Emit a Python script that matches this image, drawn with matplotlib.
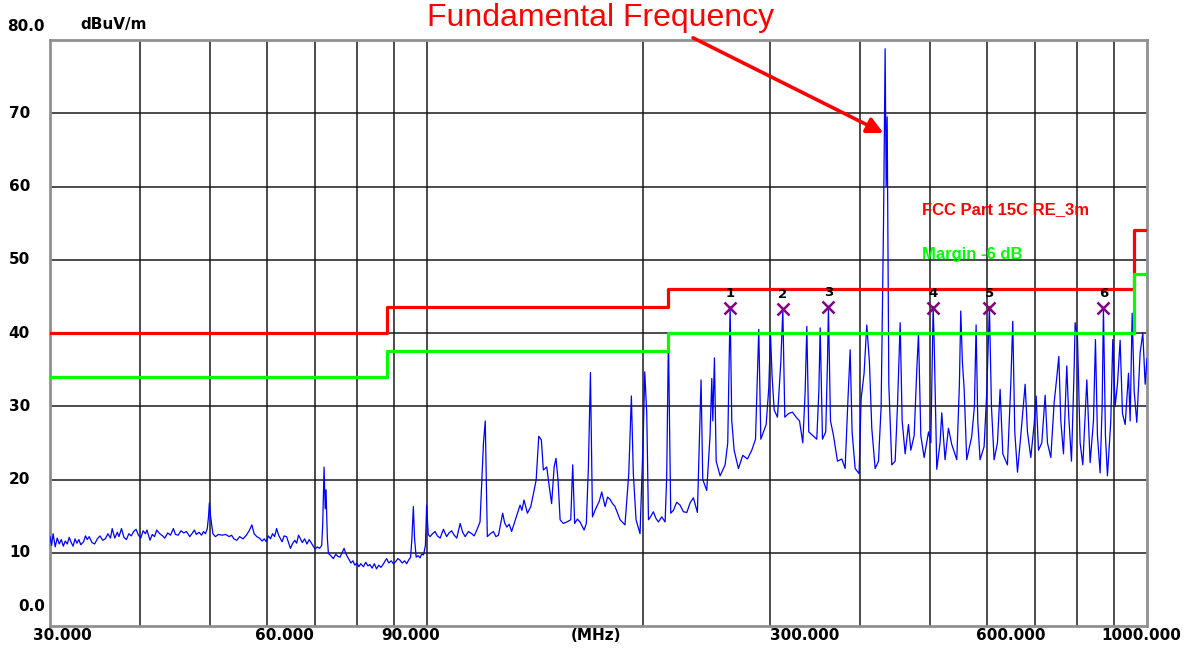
import numpy as np
import matplotlib
matplotlib.use("Agg")
import matplotlib.pyplot as plt
from matplotlib.ticker import NullLocator
from matplotlib.transforms import blended_transform_factory

# measured trace, low band 30-100 MHz (MHz, dBuV/m)
low_freq = [
    30.0, 30.15, 30.3, 30.5, 30.7, 30.9, 31.1, 31.3, 31.5, 31.7,
    31.9, 32.1, 32.3, 32.5, 32.7, 32.9, 33.1, 33.4, 33.6, 33.8,
    34.0, 34.3, 34.6, 34.9, 35.2, 35.5, 35.8, 36.1, 36.4, 36.6,
    36.9, 37.2, 37.4, 37.7, 38.0, 38.3, 38.6, 38.9, 39.2, 39.5,
    39.8, 40.1, 40.4, 40.7, 40.9, 41.3, 41.6, 41.9, 42.2, 42.6,
    43.0, 43.3, 43.7, 44.1, 44.5, 44.8, 45.2, 45.6, 46.0, 46.4,
    46.9, 47.3, 47.6, 47.9, 48.3, 48.7, 49.0, 49.3, 49.6, 49.8,
    49.93, 50.1, 50.3, 50.5, 50.9, 51.4, 52.0, 52.6, 53.2, 53.6,
    54.0, 54.5, 55.0, 55.6, 56.2, 56.7, 57.2, 57.6, 58.1, 58.6,
    59.1, 59.5, 59.9, 60.3, 60.7, 61.1, 61.5, 61.9, 62.3, 62.7,
    63.0, 63.4, 63.9, 64.3, 64.7, 65.1, 65.6, 66.0, 66.4, 66.8,
    67.2, 67.7, 68.2, 68.7, 69.2, 69.6, 70.0, 70.5, 71.0, 71.5,
    71.74, 72.04, 72.3, 72.5, 72.8, 73.05, 73.6, 74.2, 74.8, 75.3,
    75.8, 76.3, 76.8, 77.3, 77.9, 78.5, 79.0, 79.5, 80.0, 80.5,
    81.0, 81.7, 82.3, 82.9, 83.4, 84.0, 84.6, 85.2, 85.8, 86.4,
    87.0, 87.6, 88.0, 88.6, 89.3, 89.9, 90.6, 91.2, 91.8, 92.5,
    93.2, 93.8, 94.4, 95.0, 95.4, 95.84, 96.2, 96.7, 97.3, 97.9,
    98.4, 99.0, 99.6, 100.0, 100.5,
]
low_level = [
    12.2, 11.0, 12.6, 10.8, 12.0, 11.2, 11.8, 10.9, 11.6, 11.2,
    12.1, 11.4, 10.9, 11.9, 11.3, 11.8, 11.1, 11.5, 12.3, 11.8,
    12.2, 11.4, 11.2, 11.9, 12.3, 11.7, 11.9, 12.6, 12.0, 13.3,
    12.0, 12.8, 12.2, 13.3, 12.1, 11.8, 12.6, 12.3, 12.9, 13.2,
    12.4, 12.0, 13.0, 12.6, 13.1, 11.7, 12.5, 12.2, 13.1, 12.6,
    12.3, 12.0, 12.7, 12.4, 13.3, 12.5, 12.4, 13.0, 12.7, 12.9,
    12.2, 12.7, 13.1, 12.5, 12.8, 12.4, 12.9, 12.6, 13.3, 15.0,
    16.8, 15.2, 13.8, 12.6, 12.2, 12.5, 12.4, 12.5, 12.2, 12.4,
    11.9, 11.7, 12.2, 11.9, 12.4, 13.0, 13.8, 12.6, 12.2, 12.0,
    11.6, 11.9, 11.5, 12.3, 11.9, 12.6, 12.2, 13.3, 12.4, 11.9,
    11.5, 12.3, 12.2, 11.4, 10.6, 11.2, 11.7, 11.3, 12.4, 11.9,
    11.4, 11.9, 11.2, 11.8, 11.3, 10.9, 10.5, 10.8, 10.6, 11.0,
    14.0, 21.7, 16.0, 18.6, 12.0, 9.9, 9.6, 9.2, 9.8, 9.5,
    9.4, 10.0, 10.6, 9.8, 9.2, 8.6, 8.9, 8.3, 8.6, 8.1,
    8.5, 8.1, 8.7, 8.2, 8.4, 7.9, 8.5, 7.8, 8.3, 8.0,
    8.4, 8.9, 9.2, 8.6, 8.9, 8.5, 8.8, 9.2, 9.0, 8.6,
    8.9, 8.5, 9.0, 9.4, 12.0, 16.3, 12.0, 9.4, 9.6, 9.3,
    9.8, 9.7, 11.0, 16.5, 12.5,
]

# measured trace, 100-1000 MHz
high_freq = [
    101.1, 101.9, 102.7, 103.5, 104.4, 105.5, 106.6, 107.4, 108.3, 109.2,
    110.1, 111.3, 112.2, 113.1, 114.3, 115.5, 116.4, 117.4, 118.6, 119.9,
    120.6, 121.4, 122.6, 123.8, 124.8, 125.8, 127.5, 128.3, 129.2, 130.2,
    131.2, 132.3, 133.4, 134.8, 135.6, 136.5, 138.0, 139.5, 140.7, 141.9,
    143.1, 144.3, 145.2, 146.8, 148.0, 149.1, 150.3, 151.2, 152.2, 153.2,
    154.8, 156.5, 158.5, 159.5, 160.5, 161.9, 163.3, 165.4, 166.6, 167.7,
    168.8, 169.9, 171.0, 172.2, 173.6, 175.0, 176.9, 178.3, 179.7, 181.2,
    182.6, 184.1, 185.6, 188.5, 190.8, 192.4, 193.6, 195.3, 197.8, 199.9,
    200.8, 202.1, 203.2, 204.8, 206.4, 208.1, 209.8, 212.0, 214.3, 215.4,
    216.6, 217.4, 218.2, 220.1, 222.4, 224.8, 227.2, 229.7, 232.1, 234.6,
    237.6, 239.2, 240.4, 241.7, 244.8, 247.4, 248.8, 249.6, 250.9, 252.3,
    255.5, 259.6, 261.8, 263.8, 265.2, 267.2, 270.9, 274.7, 278.8, 282.7,
    286.1, 287.9, 289.1, 291.0, 296.0, 298.5, 300.1, 301.7, 303.7, 306.9,
    310.2, 312.2, 314.2, 317.9, 322.0, 325.8, 329.3, 332.8, 335.3, 337.1,
    339.2, 343.6, 348.0, 350.3, 351.8, 354.4, 358.1, 360.1, 361.2, 363.6,
    367.1, 371.8, 377.0, 381.0, 384.3, 387.2, 389.6, 393.4, 398.4, 401.0,
    404.8, 408.3, 411.8, 414.9, 419.4, 423.9, 427.5, 430.7, 433.0, 434.4,
    435.8, 438.1, 442.3, 447.1, 450.4, 454.3, 457.2, 461.6, 466.5, 470.0,
    475.1, 479.1, 481.7, 485.3, 490.5, 497.4, 501.1, 504.8, 506.4, 510.7,
    516.1, 518.9, 524.4, 530.1, 535.7, 544.4, 549.0, 551.4, 554.3, 557.3,
    562.0, 571.1, 576.0, 579.1, 582.2, 586.5, 594.1, 599.2, 604.3, 608.2,
    613.4, 620.0, 625.3, 630.7, 640.1, 647.0, 651.1, 655.3, 661.0, 668.0,
    677.4, 682.4, 689.7, 697.1, 701.6, 706.9, 714.4, 722.1, 727.5, 735.3,
    743.2, 749.6, 754.4, 759.2, 765.7, 773.8, 778.8, 785.5, 792.2, 794.8,
    800.7, 807.5, 814.5, 825.0, 833.8, 842.7, 848.1, 853.5, 860.8, 866.4,
    870.0, 875.6, 881.2, 890.7, 896.4, 903.1, 909.9, 917.7, 924.6, 932.6,
    942.6, 947.6, 953.7, 959.9, 967.9, 978.3, 986.7, 994.1, 1000.0,
]
high_level = [
    12.2, 12.6, 12.9, 12.3, 12.0, 13.2, 12.2, 12.7, 13.0, 12.4,
    12.0, 14.0, 12.8, 12.2, 12.9, 12.6, 12.3, 13.1, 14.2, 24.9,
    28.0, 12.2, 12.6, 12.9, 12.2, 12.4, 15.4, 14.1, 13.5, 13.9,
    12.9, 14.0, 15.1, 16.5, 15.8, 17.2, 15.4, 16.3, 18.1, 19.9,
    25.9, 25.4, 21.3, 21.7, 19.0, 16.7, 21.7, 22.9, 19.9, 14.5,
    14.0, 14.2, 14.5, 22.0, 14.0, 14.6, 14.2, 13.1, 14.0, 21.7,
    34.6, 14.9, 15.6, 16.3, 17.0, 18.3, 16.3, 17.6, 17.3, 16.7,
    16.3, 15.4, 14.5, 13.8, 20.8, 31.4, 20.8, 14.5, 12.6, 26.3,
    34.7, 29.0, 14.5, 15.0, 15.6, 14.7, 14.2, 14.9, 14.2, 20.4,
    39.8, 26.8, 15.4, 15.8, 16.9, 16.5, 15.6, 15.5, 16.8, 17.5,
    15.5, 26.0, 33.6, 20.0, 18.5, 26.0, 33.8, 28.0, 36.6, 22.5,
    20.5, 22.0, 25.0, 43.6, 28.0, 24.0, 21.5, 23.3, 22.8, 24.0,
    25.5, 34.5, 40.5, 25.5, 27.5, 32.5, 40.0, 34.0, 29.5, 28.5,
    36.0, 43.2, 28.5, 29.0, 29.2, 28.5, 28.0, 25.0, 32.0, 40.9,
    26.5, 26.0, 25.5, 32.0, 40.7, 25.5, 26.5, 36.0, 43.4, 28.0,
    26.0, 22.5, 22.8, 21.5, 30.5, 37.7, 26.5, 21.5, 20.8, 31.0,
    34.5, 41.1, 36.0, 27.0, 21.5, 22.5, 30.0, 54.5, 78.8, 60.0,
    69.5, 33.0, 22.0, 22.5, 30.0, 41.4, 28.0, 23.5, 27.5, 24.0,
    26.0, 35.0, 40.0, 26.0, 23.0, 26.5, 25.0, 43.6, 39.0, 21.4,
    25.0, 29.1, 22.7, 27.0, 24.8, 22.7, 33.0, 43.0, 36.0, 32.5,
    22.7, 25.9, 30.0, 41.1, 28.0, 22.7, 24.5, 32.0, 43.6, 30.0,
    22.7, 25.0, 32.3, 23.5, 22.0, 33.0, 41.6, 26.5, 21.0, 26.0,
    33.0, 26.5, 23.0, 27.5, 31.4, 24.0, 25.0, 31.5, 25.0, 23.0,
    30.5, 34.0, 36.8, 28.0, 23.5, 35.5, 28.5, 22.5, 35.0, 41.4,
    39.5, 25.0, 22.0, 33.6, 22.3, 28.0, 39.1, 26.0, 20.9, 30.0,
    43.4, 26.0, 20.5, 28.0, 39.1, 30.0, 33.0, 39.0, 29.0, 27.5,
    34.5, 28.0, 42.7, 32.0, 27.8, 37.3, 40.0, 33.0, 36.5,
]

# FCC Part 15C limit (step edges in MHz) and margin
limit_edges = [30, 88, 216, 960, 1000]
limit_levels = [40.0, 43.5, 46.0, 54.0]
margin_db = 6.0

# marked peaks
marker_freq = [263.8, 312.2, 361.2, 504.8, 604.3, 870.0]
marker_level = [43.4, 43.3, 43.5, 43.4, 43.4, 43.4]
marker_names = ["1", "2", "3", "4", "5", "6"]

grid_x = [40, 50, 60, 70, 80, 90, 100, 200, 300, 400, 500, 600, 700, 800, 900]
grid_y = [10, 20, 30, 40, 50, 60, 70]
xlabels = ["30.000", "60.000", "90.000", "(MHz)", "300.000", "600.000", "1000.000"]
xlabel_pos = [0.011, 0.214, 0.329, 0.498, 0.688, 0.876, 0.995]

fig = plt.figure(figsize=(11.9, 6.5), dpi=100)
ax = fig.add_axes([50 / 1190, 24 / 650, 1097 / 1190, 586 / 650])
ax.set_xscale("log")
ax.set_xlim(30, 1000)
ax.set_ylim(0, 80)
ax.xaxis.set_minor_locator(NullLocator())
ax.set_xticks(grid_x)
ax.set_yticks(grid_y)
ax.tick_params(length=0, labelbottom=False, labelleft=False)
ax.grid(True, color="#1a1a1a", lw=1.1)
for s in ax.spines.values():
    s.set_color("#909090")
    s.set_linewidth(2)

ax.plot(low_freq + high_freq, low_level + high_level, color="#0000ff", lw=0.9, zorder=3)

lim = limit_levels + [limit_levels[-1]]
ax.step(limit_edges, lim, where="post", color="#ff0000", lw=2.3, zorder=4)
ax.step(limit_edges, [v - margin_db for v in lim], where="post", color="#00ff00", lw=2.3, zorder=4)

ax.plot(marker_freq, marker_level, ls="none", marker="x", ms=9, mew=1.8,
        color="#800080", zorder=5)
for f, v, n in zip(marker_freq, marker_level, marker_names):
    ax.text(f, v + 2.0, n, ha="center", va="center", fontsize=9.5,
            fontweight="bold", color="black", zorder=5)

bold = dict(family="DejaVu Sans", weight="bold", size=11)
ytr = blended_transform_factory(fig.transFigure, ax.transData)
for v in grid_y:
    ax.text(30 / 1190, v, str(v), transform=ytr, ha="right", va="center", **bold)
ax.text(45 / 1190, 80 + 14 / 7.33, "80.0", transform=ytr, ha="right", va="center", **bold)
ax.text(45 / 1190, 2.6, "0.0", transform=ytr, ha="right", va="center", **bold)
fig.text(80 / 1190, 1 - 25 / 650, "dBuV/m", ha="left", va="center", **bold)

for lab, p in zip(xlabels, xlabel_pos):
    fig.text(50 / 1190 + p * 1097 / 1190, 1 - 636 / 650, lab,
             ha="center", va="center", **bold)

leg = dict(family="Liberation Sans", weight="bold", size=12)
ax.text(487, 56.8, "FCC Part 15C RE_3m", color="#ff0000", ha="left", va="center", **leg)
ax.text(487, 50.7, "Margin -6 dB", color="#00ff00", ha="left", va="center", **leg)

fig.text(601 / 1190, 1 - 18 / 650, "Fundamental Frequency", color="#ff0000",
         family="Liberation Sans", size=23, ha="center", va="center")
ax.annotate("", xy=(430.6, 67.3), xytext=(234.3, 80.3), annotation_clip=False,
            arrowprops=dict(arrowstyle="-|>", color="#ff0000", lw=2.6,
                            mutation_scale=24, shrinkA=0, shrinkB=0))

fig.savefig("out.png", dpi=100)
